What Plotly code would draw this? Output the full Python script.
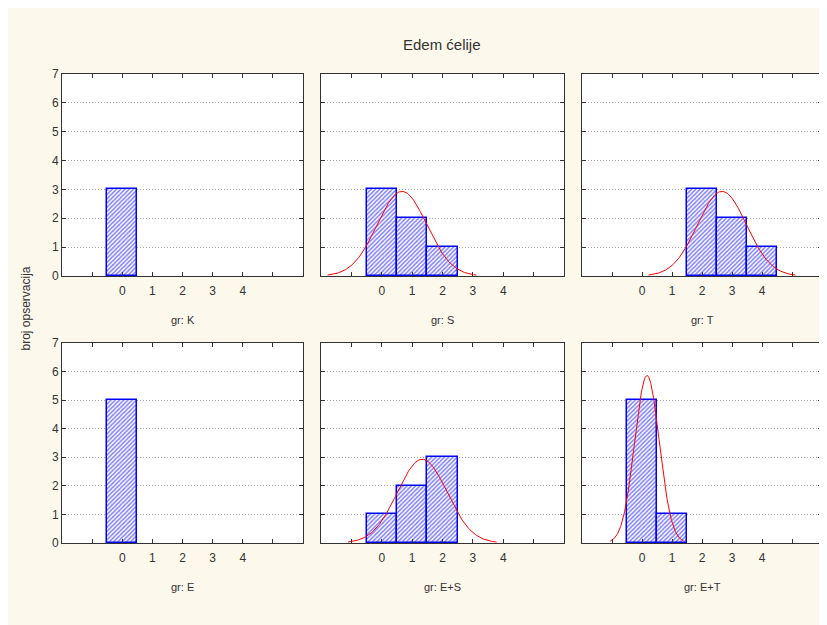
import numpy as np
import plotly.graph_objects as go

# ---------------- data ----------------
title_text = "Edem ćelije"
y_title = "broj opservacija"
group_labels = ["gr: K", "gr: S", "gr: T", "gr: E", "gr: E+S", "gr: E+T"]
bins_K = [0]
counts_K = [3]
bins_S = [0, 1, 2]
counts_S = [3, 2, 1]
bins_T = [2, 3, 4]
counts_T = [3, 2, 1]
bins_E = [0]
counts_E = [5]
bins_ES = [0, 1, 2]
counts_ES = [1, 2, 3]
bins_ET = [0, 1]
counts_ET = [5, 1]
x_tick_vals = [-1, 0, 1, 2, 3, 4, 5]
x_tick_text = ["", "0", "1", "2", "3", "4", ""]
y_tick_vals = [0, 1, 2, 3, 4, 5, 6, 7]

panels = [
    (bins_K, counts_K), (bins_S, counts_S), (bins_T, counts_T),
    (bins_E, counts_E), (bins_ES, counts_ES), (bins_ET, counts_ET),
]

# ---------------- layout geometry (figure pixels; page body adds 8px) ----------------
W, H = 827, 625
OFF = 8
col_px = [(62 - OFF, 303 - OFF), (321 - OFF, 564 - OFF), (582 - OFF, 822 - OFF)]
row_px = [(74 - OFF, 276 - OFF), (343 - OFF, 543 - OFF)]
ML = col_px[0][0]
MR = W - col_px[2][1]
MT = row_px[0][0]
MB = H - row_px[1][1]
PW = W - ML - MR
PH = H - MT - MB
BOT = row_px[1][1]


def xdom(c):
    a, b = col_px[c]
    return [(a - ML) / PW, (b - ML) / PW]


def ydom(r):
    a, b = row_px[r]
    return [(BOT - b) / PH, (BOT - a) / PH]


FONT = "Liberation Sans, Arial, sans-serif"
TXT = "#333333"
BLUE = "#0000FF"

fig = go.Figure()
layout = dict(
    width=W, height=H, autosize=False,
    margin=dict(l=ML, r=MR, t=MT, b=MB),
    paper_bgcolor="#FDF8EC",
    plot_bgcolor="#FFFFFF",
    showlegend=False,
    bargap=0,
    font=dict(family=FONT, size=12, color=TXT),
)

annotations = []
for i, (bins, counts) in enumerate(panels):
    r, c = divmod(i, 3)
    k = i + 1
    xa = "x" if k == 1 else f"x{k}"
    ya = "y" if k == 1 else f"y{k}"
    fig.add_trace(go.Bar(
        x=bins, y=counts, width=1.0, xaxis=xa, yaxis=ya,
        marker=dict(color="#FFFFFF",
                    line=dict(color=BLUE, width=1.5),
                    pattern=dict(shape="/", fgcolor=BLUE, bgcolor="#FFFFFF",
                                 size=3, solidity=0.5, fillmode="overlay")),
        hoverinfo="skip",
    ))
    # fitted normal curve (from the observations of the histogram)
    obs = np.repeat(np.array(bins, float), counts)
    n = len(obs)
    if n > 1 and obs.std() > 0:
        m = obs.mean()
        s = obs.std(ddof=1)
        xs = np.linspace(m - 3 * s, m + 3 * s, 200)
        ys = n * 1.0 * np.exp(-0.5 * ((xs - m) / s) ** 2) / (s * np.sqrt(2 * np.pi))
        fig.add_trace(go.Scatter(x=xs, y=ys, mode="lines", xaxis=xa, yaxis=ya,
                                 line=dict(color="#FF0000", width=1),
                                 hoverinfo="skip"))
    axis_x = dict(
        domain=xdom(c), range=[-2, 6], anchor=ya,
        tickmode="array", tickvals=x_tick_vals, ticktext=x_tick_text,
        ticks="inside", ticklen=4, tickcolor="#333333",
        showline=True, linecolor="#333333", linewidth=1, mirror="ticks",
        showgrid=False, zeroline=False, fixedrange=True,
        ticklabelstandoff=4,
        tickfont=dict(family=FONT, size=12, color=TXT),
    )
    axis_y = dict(
        domain=ydom(r), range=[0, 7], anchor=xa,
        tickmode="array", tickvals=y_tick_vals,
        showticklabels=(c == 0),
        ticks="inside", ticklen=4, tickcolor="#333333",
        showline=True, linecolor="#333333", linewidth=1, mirror="ticks",
        showgrid=True, gridcolor="#A8A8A8", gridwidth=1, griddash="1px,2px",
        zeroline=False, fixedrange=True,
        tickfont=dict(family=FONT, size=12, color=TXT),
    )
    layout["xaxis" if k == 1 else f"xaxis{k}"] = axis_x
    layout["yaxis" if k == 1 else f"yaxis{k}"] = axis_y
    d = xdom(c)
    annotations.append(dict(
        text=group_labels[i], xref="paper", yref="paper",
        x=(d[0] + d[1]) / 2, y=ydom(r)[0], yshift=-44,
        xanchor="center", yanchor="middle", showarrow=False,
        font=dict(family=FONT, size=11, color=TXT),
    ))

annotations.append(dict(
    text=y_title, xref="paper", yref="paper", x=0, y=0.5, xshift=-37,
    textangle=-90, xanchor="center", yanchor="middle", showarrow=False,
    font=dict(family=FONT, size=12, color=TXT),
))
annotations.append(dict(
    text=title_text, xref="paper", yref="paper", x=0.5, y=1, yshift=30,
    xanchor="center", yanchor="middle", showarrow=False,
    font=dict(family=FONT, size=15, color=TXT),
))
layout["annotations"] = annotations
fig.update_layout(**layout)
fig.write_html("out.html")
